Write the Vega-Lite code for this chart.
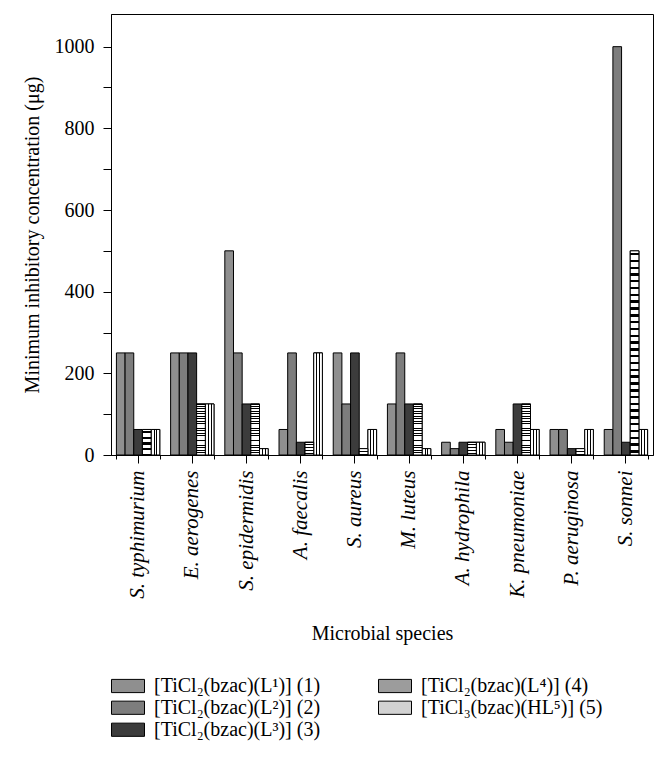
{
  "$schema": "https://vega.github.io/schema/vega-lite/v6.json",
  "width": 542,
  "height": 441,
  "autosize": {"type": "none"},
  "padding": {"left": 111, "top": 14, "right": 19, "bottom": 316},
  "background": "white",
  "config": {
    "font": "Liberation Serif",
    "view": {"stroke": "black", "strokeWidth": 1},
    "axis": {
      "domainColor": "black", "tickColor": "black", "labelColor": "black", "titleColor": "black",
      "grid": false, "labelFont": "Liberation Serif", "titleFont": "Liberation Serif",
      "titleFontWeight": "normal"
    }
  },
  "data": {"values": [
    {"species": "S. typhimurium", "compound": "[TiCl₂(bzac)(L¹)] (1)", "mic": 250},
    {"species": "S. typhimurium", "compound": "[TiCl₂(bzac)(L²)] (2)", "mic": 250},
    {"species": "S. typhimurium", "compound": "[TiCl₂(bzac)(L³)] (3)", "mic": 62.5},
    {"species": "S. typhimurium", "compound": "[TiCl₂(bzac)(L⁴)] (4)", "mic": 62.5},
    {"species": "S. typhimurium", "compound": "[TiCl₃(bzac)(HL⁵)] (5)", "mic": 62.5},
    {"species": "E. aerogenes", "compound": "[TiCl₂(bzac)(L¹)] (1)", "mic": 250},
    {"species": "E. aerogenes", "compound": "[TiCl₂(bzac)(L²)] (2)", "mic": 250},
    {"species": "E. aerogenes", "compound": "[TiCl₂(bzac)(L³)] (3)", "mic": 250},
    {"species": "E. aerogenes", "compound": "[TiCl₂(bzac)(L⁴)] (4)", "mic": 125},
    {"species": "E. aerogenes", "compound": "[TiCl₃(bzac)(HL⁵)] (5)", "mic": 125},
    {"species": "S. epidermidis", "compound": "[TiCl₂(bzac)(L¹)] (1)", "mic": 500},
    {"species": "S. epidermidis", "compound": "[TiCl₂(bzac)(L²)] (2)", "mic": 250},
    {"species": "S. epidermidis", "compound": "[TiCl₂(bzac)(L³)] (3)", "mic": 125},
    {"species": "S. epidermidis", "compound": "[TiCl₂(bzac)(L⁴)] (4)", "mic": 125},
    {"species": "S. epidermidis", "compound": "[TiCl₃(bzac)(HL⁵)] (5)", "mic": 15.6},
    {"species": "A. faecalis", "compound": "[TiCl₂(bzac)(L¹)] (1)", "mic": 62.5},
    {"species": "A. faecalis", "compound": "[TiCl₂(bzac)(L²)] (2)", "mic": 250},
    {"species": "A. faecalis", "compound": "[TiCl₂(bzac)(L³)] (3)", "mic": 31.25},
    {"species": "A. faecalis", "compound": "[TiCl₂(bzac)(L⁴)] (4)", "mic": 31.25},
    {"species": "A. faecalis", "compound": "[TiCl₃(bzac)(HL⁵)] (5)", "mic": 250},
    {"species": "S. aureus", "compound": "[TiCl₂(bzac)(L¹)] (1)", "mic": 250},
    {"species": "S. aureus", "compound": "[TiCl₂(bzac)(L²)] (2)", "mic": 125},
    {"species": "S. aureus", "compound": "[TiCl₂(bzac)(L³)] (3)", "mic": 250},
    {"species": "S. aureus", "compound": "[TiCl₂(bzac)(L⁴)] (4)", "mic": 15.6},
    {"species": "S. aureus", "compound": "[TiCl₃(bzac)(HL⁵)] (5)", "mic": 62.5},
    {"species": "M. luteus", "compound": "[TiCl₂(bzac)(L¹)] (1)", "mic": 125},
    {"species": "M. luteus", "compound": "[TiCl₂(bzac)(L²)] (2)", "mic": 250},
    {"species": "M. luteus", "compound": "[TiCl₂(bzac)(L³)] (3)", "mic": 125},
    {"species": "M. luteus", "compound": "[TiCl₂(bzac)(L⁴)] (4)", "mic": 125},
    {"species": "M. luteus", "compound": "[TiCl₃(bzac)(HL⁵)] (5)", "mic": 15.6},
    {"species": "A. hydrophila", "compound": "[TiCl₂(bzac)(L¹)] (1)", "mic": 31.25},
    {"species": "A. hydrophila", "compound": "[TiCl₂(bzac)(L²)] (2)", "mic": 15.6},
    {"species": "A. hydrophila", "compound": "[TiCl₂(bzac)(L³)] (3)", "mic": 31.25},
    {"species": "A. hydrophila", "compound": "[TiCl₂(bzac)(L⁴)] (4)", "mic": 31.25},
    {"species": "A. hydrophila", "compound": "[TiCl₃(bzac)(HL⁵)] (5)", "mic": 31.25},
    {"species": "K. pneumoniae", "compound": "[TiCl₂(bzac)(L¹)] (1)", "mic": 62.5},
    {"species": "K. pneumoniae", "compound": "[TiCl₂(bzac)(L²)] (2)", "mic": 31.25},
    {"species": "K. pneumoniae", "compound": "[TiCl₂(bzac)(L³)] (3)", "mic": 125},
    {"species": "K. pneumoniae", "compound": "[TiCl₂(bzac)(L⁴)] (4)", "mic": 125},
    {"species": "K. pneumoniae", "compound": "[TiCl₃(bzac)(HL⁵)] (5)", "mic": 62.5},
    {"species": "P. aeruginosa", "compound": "[TiCl₂(bzac)(L¹)] (1)", "mic": 62.5},
    {"species": "P. aeruginosa", "compound": "[TiCl₂(bzac)(L²)] (2)", "mic": 62.5},
    {"species": "P. aeruginosa", "compound": "[TiCl₂(bzac)(L³)] (3)", "mic": 15.6},
    {"species": "P. aeruginosa", "compound": "[TiCl₂(bzac)(L⁴)] (4)", "mic": 15.6},
    {"species": "P. aeruginosa", "compound": "[TiCl₃(bzac)(HL⁵)] (5)", "mic": 62.5},
    {"species": "S. sonnei", "compound": "[TiCl₂(bzac)(L¹)] (1)", "mic": 62.5},
    {"species": "S. sonnei", "compound": "[TiCl₂(bzac)(L²)] (2)", "mic": 1000},
    {"species": "S. sonnei", "compound": "[TiCl₂(bzac)(L³)] (3)", "mic": 31.25},
    {"species": "S. sonnei", "compound": "[TiCl₂(bzac)(L⁴)] (4)", "mic": 500},
    {"species": "S. sonnei", "compound": "[TiCl₃(bzac)(HL⁵)] (5)", "mic": 62.5}
  ]},
  "layer": [
    {
      "mark": {"type": "bar", "stroke": "black", "strokeWidth": 1},
      "encoding": {
        "x": {
          "field": "species", "type": "nominal",
          "scale": {"domain": ["S. typhimurium", "E. aerogenes", "S. epidermidis", "A. faecalis", "S. aureus", "M. luteus", "A. hydrophila", "K. pneumoniae", "P. aeruginosa", "S. sonnei"], "paddingInner": 0.2, "paddingOuter": 0.1},
          "axis": {
            "orient": "bottom",
            "title": "Microbial species", "titleFontSize": 20, "titlePadding": 25,
            "labelAngle": 270, "labelFontStyle": "italic", "labelFontSize": 21,
            "labelPadding": 7, "tickSize": 8, "labelLimit": 300
          }
        },
        "xOffset": {
          "field": "compound", "type": "nominal",
          "scale": {"domain": ["[TiCl₂(bzac)(L¹)] (1)", "[TiCl₂(bzac)(L²)] (2)", "[TiCl₂(bzac)(L³)] (3)", "[TiCl₂(bzac)(L⁴)] (4)", "[TiCl₃(bzac)(HL⁵)] (5)"], "paddingInner": 0, "paddingOuter": 0}
        },
        "y": {
          "field": "mic", "type": "quantitative",
          "scale": {"domain": [0, 1080], "nice": false, "zero": true},
          "axis": {
            "title": "Minimum inhibitory concentration (μg)", "titleFontSize": 20, "titlePadding": 12,
            "values": [0, 100, 200, 300, 400, 500, 600, 700, 800, 900, 1000],
            "labelExpr": "datum.value % 200 === 0 ? format(datum.value, 'd') : ''",
            "labelOverlap": false, "labelFontSize": 20, "labelPadding": 9, "tickSize": 8
          }
        },
        "color": {
          "field": "compound", "type": "nominal",
          "scale": {
            "domain": ["[TiCl₂(bzac)(L¹)] (1)", "[TiCl₂(bzac)(L⁴)] (4)", "[TiCl₂(bzac)(L²)] (2)", "[TiCl₃(bzac)(HL⁵)] (5)", "[TiCl₂(bzac)(L³)] (3)"],
            "range": ["#8f8f8f", "#9c9c9c", "#7d7d7d", "#d2d2d2", "#3c3c3c"]
          },
          "legend": {
            "orient": "bottom", "title": null, "columns": 2, "direction": "horizontal",
            "symbolType": "M-1,-0.4H1V0.4H-1Z", "symbolSize": 1089,
            "symbolStrokeColor": "black", "symbolStrokeWidth": 1,
            "labelFont": "Liberation Serif", "labelFontSize": 20, "labelColor": "black",
            "labelLimit": 400, "labelOffset": 9, "columnPadding": 57, "rowPadding": 0, "clipHeight": 21.5,
            "offset": 31
          }
        }
      }
    },
    {
      "transform": [{"filter": "datum.compound === '[TiCl₃(bzac)(HL⁵)] (5)'"}],
      "mark": {
        "type": "bar", "stroke": "black", "strokeWidth": 1,
        "fill": {"gradient": "linear", "x1": 0, "y1": 0, "x2": 1, "y2": 0, "stops": [
          {"offset": 0, "color": "#fff"}, {"offset": 0.28, "color": "#fff"}, {"offset": 0.28, "color": "#000"}, {"offset": 0.4, "color": "#000"}, {"offset": 0.4, "color": "#fff"},
          {"offset": 0.6, "color": "#fff"}, {"offset": 0.6, "color": "#000"}, {"offset": 0.72, "color": "#000"}, {"offset": 0.72, "color": "#fff"}, {"offset": 1, "color": "#fff"}
        ]}
      },
      "encoding": {
        "x": {"field": "species", "type": "nominal", "axis": null},
        "xOffset": {"field": "compound", "type": "nominal"},
        "y": {"field": "mic", "type": "quantitative"}
      }
    },
    {
      "transform": [{"filter": "datum.compound === '[TiCl₂(bzac)(L⁴)] (4)'"}],
      "mark": {
        "type": "bar", "stroke": "black", "strokeWidth": 1,
        "fill": {"gradient": "linear", "x1": 0, "y1": 0, "x2": 0, "y2": 1, "stops": [
          {"offset": 0.010, "color": "#fff"}, {"offset": 0.010, "color": "#000"}, {"offset": 0.022, "color": "#000"}, {"offset": 0.022, "color": "#fff"},
          {"offset": 0.043, "color": "#fff"}, {"offset": 0.043, "color": "#000"}, {"offset": 0.055, "color": "#000"}, {"offset": 0.055, "color": "#fff"},
          {"offset": 0.077, "color": "#fff"}, {"offset": 0.077, "color": "#000"}, {"offset": 0.089, "color": "#000"}, {"offset": 0.089, "color": "#fff"},
          {"offset": 0.110, "color": "#fff"}, {"offset": 0.110, "color": "#000"}, {"offset": 0.122, "color": "#000"}, {"offset": 0.122, "color": "#fff"},
          {"offset": 0.143, "color": "#fff"}, {"offset": 0.143, "color": "#000"}, {"offset": 0.155, "color": "#000"}, {"offset": 0.155, "color": "#fff"},
          {"offset": 0.177, "color": "#fff"}, {"offset": 0.177, "color": "#000"}, {"offset": 0.189, "color": "#000"}, {"offset": 0.189, "color": "#fff"},
          {"offset": 0.210, "color": "#fff"}, {"offset": 0.210, "color": "#000"}, {"offset": 0.222, "color": "#000"}, {"offset": 0.222, "color": "#fff"},
          {"offset": 0.243, "color": "#fff"}, {"offset": 0.243, "color": "#000"}, {"offset": 0.255, "color": "#000"}, {"offset": 0.255, "color": "#fff"},
          {"offset": 0.277, "color": "#fff"}, {"offset": 0.277, "color": "#000"}, {"offset": 0.289, "color": "#000"}, {"offset": 0.289, "color": "#fff"},
          {"offset": 0.310, "color": "#fff"}, {"offset": 0.310, "color": "#000"}, {"offset": 0.322, "color": "#000"}, {"offset": 0.322, "color": "#fff"},
          {"offset": 0.343, "color": "#fff"}, {"offset": 0.343, "color": "#000"}, {"offset": 0.355, "color": "#000"}, {"offset": 0.355, "color": "#fff"},
          {"offset": 0.377, "color": "#fff"}, {"offset": 0.377, "color": "#000"}, {"offset": 0.389, "color": "#000"}, {"offset": 0.389, "color": "#fff"},
          {"offset": 0.410, "color": "#fff"}, {"offset": 0.410, "color": "#000"}, {"offset": 0.422, "color": "#000"}, {"offset": 0.422, "color": "#fff"},
          {"offset": 0.443, "color": "#fff"}, {"offset": 0.443, "color": "#000"}, {"offset": 0.455, "color": "#000"}, {"offset": 0.455, "color": "#fff"},
          {"offset": 0.477, "color": "#fff"}, {"offset": 0.477, "color": "#000"}, {"offset": 0.489, "color": "#000"}, {"offset": 0.489, "color": "#fff"},
          {"offset": 0.510, "color": "#fff"}, {"offset": 0.510, "color": "#000"}, {"offset": 0.522, "color": "#000"}, {"offset": 0.522, "color": "#fff"},
          {"offset": 0.543, "color": "#fff"}, {"offset": 0.543, "color": "#000"}, {"offset": 0.555, "color": "#000"}, {"offset": 0.555, "color": "#fff"},
          {"offset": 0.577, "color": "#fff"}, {"offset": 0.577, "color": "#000"}, {"offset": 0.589, "color": "#000"}, {"offset": 0.589, "color": "#fff"},
          {"offset": 0.610, "color": "#fff"}, {"offset": 0.610, "color": "#000"}, {"offset": 0.622, "color": "#000"}, {"offset": 0.622, "color": "#fff"},
          {"offset": 0.643, "color": "#fff"}, {"offset": 0.643, "color": "#000"}, {"offset": 0.655, "color": "#000"}, {"offset": 0.655, "color": "#fff"},
          {"offset": 0.677, "color": "#fff"}, {"offset": 0.677, "color": "#000"}, {"offset": 0.689, "color": "#000"}, {"offset": 0.689, "color": "#fff"},
          {"offset": 0.710, "color": "#fff"}, {"offset": 0.710, "color": "#000"}, {"offset": 0.722, "color": "#000"}, {"offset": 0.722, "color": "#fff"},
          {"offset": 0.743, "color": "#fff"}, {"offset": 0.743, "color": "#000"}, {"offset": 0.755, "color": "#000"}, {"offset": 0.755, "color": "#fff"},
          {"offset": 0.777, "color": "#fff"}, {"offset": 0.777, "color": "#000"}, {"offset": 0.789, "color": "#000"}, {"offset": 0.789, "color": "#fff"},
          {"offset": 0.810, "color": "#fff"}, {"offset": 0.810, "color": "#000"}, {"offset": 0.822, "color": "#000"}, {"offset": 0.822, "color": "#fff"},
          {"offset": 0.843, "color": "#fff"}, {"offset": 0.843, "color": "#000"}, {"offset": 0.855, "color": "#000"}, {"offset": 0.855, "color": "#fff"},
          {"offset": 0.877, "color": "#fff"}, {"offset": 0.877, "color": "#000"}, {"offset": 0.889, "color": "#000"}, {"offset": 0.889, "color": "#fff"},
          {"offset": 0.910, "color": "#fff"}, {"offset": 0.910, "color": "#000"}, {"offset": 0.922, "color": "#000"}, {"offset": 0.922, "color": "#fff"},
          {"offset": 0.943, "color": "#fff"}, {"offset": 0.943, "color": "#000"}, {"offset": 0.955, "color": "#000"}, {"offset": 0.955, "color": "#fff"},
          {"offset": 0.977, "color": "#fff"}, {"offset": 0.977, "color": "#000"}, {"offset": 0.989, "color": "#000"}, {"offset": 0.989, "color": "#fff"}
        ]}
      },
      "encoding": {
        "x": {"field": "species", "type": "nominal", "axis": null},
        "xOffset": {"field": "compound", "type": "nominal"},
        "y": {"field": "mic", "type": "quantitative"}
      }
    },
    {
      "mark": {"type": "tick", "opacity": 0},
      "encoding": {
        "x": {
          "field": "species", "type": "nominal",
          "axis": {"orient": "bottom", "tickBand": "extent", "tickSize": 4, "labels": false, "domain": false, "title": null}
        }
      }
    }
  ],
  "resolve": {"axis": {"x": "independent"}}
}
